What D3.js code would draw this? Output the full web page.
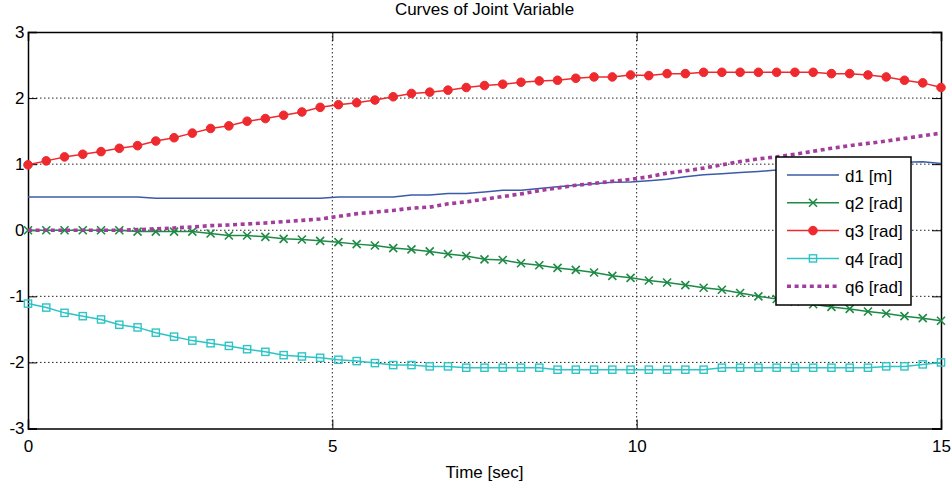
<!DOCTYPE html>
<html>
<head>
<meta charset="utf-8">
<script src="https://cdn.jsdelivr.net/npm/d3@7"></script>
<style>
  body { margin: 0; background: #fff; }
  svg { display: block; font-family: "Liberation Sans", Arial, sans-serif; }
</style>
</head>
<body>
<svg id="chart" width="952" height="489"></svg>
<script>
// time samples: 0 to 15 s, every 0.3 s (51 samples)
const time = d3.range(51).map(i => +(i * 0.3).toFixed(1));

const d1 = [0.505, 0.505, 0.505, 0.505, 0.505, 0.505, 0.505, 0.485, 0.485, 0.485,
            0.485, 0.485, 0.485, 0.485, 0.485, 0.485, 0.485, 0.505, 0.505, 0.505,
            0.505, 0.535, 0.535, 0.555, 0.555, 0.58, 0.605, 0.605, 0.63, 0.66,
            0.68, 0.705, 0.725, 0.73, 0.75, 0.77, 0.81, 0.84, 0.855, 0.875,
            0.89, 0.91, 0.94, 0.96, 0.98, 1.0, 1.01, 1.02, 1.03, 1.035, 1.01];

const q2 = [0, 0, 0, 0, 0, 0, -0.02, -0.02, -0.02, -0.02,
            -0.05, -0.08, -0.08, -0.10, -0.13, -0.14, -0.16, -0.18, -0.21, -0.23,
            -0.27, -0.29, -0.32, -0.36, -0.39, -0.44, -0.45, -0.50, -0.53, -0.57,
            -0.60, -0.64, -0.69, -0.72, -0.76, -0.79, -0.83, -0.87, -0.90, -0.95,
            -1.00, -1.04, -1.08, -1.12, -1.16, -1.19, -1.23, -1.26, -1.30, -1.33, -1.37];

const q3 = [0.99, 1.05, 1.11, 1.15, 1.19, 1.24, 1.28, 1.35, 1.40, 1.47,
            1.54, 1.58, 1.65, 1.69, 1.74, 1.79, 1.86, 1.90, 1.93, 1.97,
            2.02, 2.07, 2.09, 2.12, 2.16, 2.19, 2.21, 2.24, 2.26, 2.27,
            2.30, 2.32, 2.32, 2.35, 2.34, 2.37, 2.37, 2.39, 2.39, 2.39,
            2.39, 2.39, 2.39, 2.39, 2.37, 2.37, 2.35, 2.32, 2.27, 2.23, 2.16];

const q4 = [-1.11, -1.17, -1.25, -1.30, -1.35, -1.43, -1.47, -1.55, -1.61, -1.67,
            -1.71, -1.75, -1.80, -1.84, -1.89, -1.91, -1.93, -1.96, -1.98, -2.01,
            -2.04, -2.04, -2.06, -2.06, -2.08, -2.08, -2.08, -2.08, -2.08, -2.11,
            -2.11, -2.11, -2.11, -2.11, -2.11, -2.11, -2.11, -2.11, -2.08, -2.08,
            -2.08, -2.08, -2.08, -2.08, -2.08, -2.08, -2.08, -2.06, -2.06, -2.03, -2.00];

const q6 = [0, 0, 0, 0, 0, 0, 0.01, 0.02, 0.035, 0.05,
            0.07, 0.08, 0.095, 0.11, 0.13, 0.15, 0.17, 0.21, 0.25, 0.275,
            0.30, 0.335, 0.35, 0.40, 0.43, 0.47, 0.51, 0.55, 0.60, 0.64,
            0.68, 0.71, 0.74, 0.77, 0.81, 0.865, 0.90, 0.94, 0.99, 1.04,
            1.08, 1.11, 1.15, 1.195, 1.24, 1.28, 1.315, 1.35, 1.39, 1.43, 1.47];

const xTicks = [0, 5, 10, 15];
const yTicks = [-3, -2, -1, 0, 1, 2, 3];

const series = [
  { name: "d1 [m]",  values: d1, color: "#3b5ba9", marker: "none" },
  { name: "q2 [rad]", values: q2, color: "#1e8a45", marker: "x" },
  { name: "q3 [rad]", values: q3, color: "#ee2a2e", marker: "dot" },
  { name: "q4 [rad]", values: q4, color: "#2ec4c6", marker: "square" },
  { name: "q6 [rad]", values: q6, color: "#a23d9c", marker: "none", dotted: true }
];

const width = 952, height = 489;
const margin = { top: 32, right: 11, bottom: 60.5, left: 28 };

const svg = d3.select("#chart");

const x = d3.scaleLinear().domain([0, 15]).range([margin.left, width - margin.right]);
const y = d3.scaleLinear().domain([-3, 3]).range([height - margin.bottom, margin.top]);

const x0 = x.range()[0], x1 = x.range()[1], yB = y.range()[0], yT = y.range()[1];

// dotted grid
svg.append("g")
  .selectAll("line")
  .data(xTicks.slice(1, -1))
  .enter().append("line")
  .attr("x1", d => x(d)).attr("x2", d => x(d))
  .attr("y1", yT).attr("y2", yB)
  .attr("stroke", "#222").attr("stroke-width", 1).attr("stroke-dasharray", "1.5,2.5");

svg.append("g")
  .selectAll("line")
  .data(yTicks.slice(1, -1))
  .enter().append("line")
  .attr("x1", x0).attr("x2", x1)
  .attr("y1", d => y(d)).attr("y2", d => y(d))
  .attr("stroke", "#222").attr("stroke-width", 1).attr("stroke-dasharray", "1.5,2.5");

// axes with inward ticks, matlab style box. plain hyphen for negatives like matlab
const fmt = d => String(d);
const tickLen = 9;
const axisB = d3.axisBottom(x).tickValues(xTicks).tickSize(-tickLen).tickPadding(11).tickFormat(fmt);
const axisT = d3.axisTop(x).tickValues(xTicks).tickSize(-tickLen).tickFormat("");
const axisL = d3.axisLeft(y).tickValues(yTicks).tickSize(-tickLen).tickPadding(3.5).tickFormat(fmt);
const axisR = d3.axisRight(y).tickValues(yTicks).tickSize(-tickLen).tickFormat("");

const gB = svg.append("g").attr("transform", `translate(0,${yB})`).call(axisB);
const gT = svg.append("g").attr("transform", `translate(0,${yT})`).call(axisT);
const gL = svg.append("g").attr("transform", `translate(${x0},0)`).call(axisL);
const gR = svg.append("g").attr("transform", `translate(${x1},0)`).call(axisR);

[gB, gT, gL, gR].forEach(g => {
  g.select(".domain").attr("stroke", "#000").attr("stroke-width", 1.5);
  g.selectAll(".tick line").attr("stroke", "#000").attr("stroke-width", 1);
  g.selectAll(".tick text").attr("fill", "#000").style("font-size", "17px")
    .style("font-family", "'Liberation Sans', Arial, sans-serif");
});

// the lines
const line = d3.line().x((d, i) => x(time[i])).y(d => y(d));

const marks = svg.append("g");

const drawMarker = (g, kind, color) => {
  if (kind === "dot") {
    g.append("circle").attr("r", 4.3).attr("fill", color).attr("stroke", color);
  } else if (kind === "x") {
    g.append("path").attr("d", "M-4,-4L4,4M-4,4L4,-4")
      .attr("stroke", color).attr("stroke-width", 1.6).attr("fill", "none");
  } else if (kind === "square") {
    g.append("rect").attr("x", -3.6).attr("y", -3.6).attr("width", 7.2).attr("height", 7.2)
      .attr("stroke", color).attr("stroke-width", 1.4).attr("fill", "none");
  }
};

series.forEach(s => {
  marks.append("path")
    .datum(s.values)
    .attr("d", line)
    .attr("fill", "none")
    .attr("stroke", s.color)
    .attr("stroke-width", s.dotted ? 3.6 : 1.5)
    .attr("stroke-dasharray", s.dotted ? "4,3.6" : null);

  if (s.marker !== "none") {
    marks.append("g")
      .selectAll("g")
      .data(s.values)
      .enter().append("g")
      .attr("transform", (d, i) => `translate(${x(time[i])},${y(d)})`)
      .each(function () { drawMarker(d3.select(this), s.marker, s.color); });
  }
});

// title + x label
svg.append("text")
  .attr("x", (x0 + x1) / 2).attr("y", 15)
  .attr("text-anchor", "middle")
  .style("font-size", "17px")
  .text("Curves of Joint Variable");

svg.append("text")
  .attr("x", (x0 + x1) / 2).attr("y", 478)
  .attr("text-anchor", "middle")
  .style("font-size", "17px")
  .text("Time [sec]");

// legend box
const lg = { x: 776, y: 157, w: 135, h: 148, row: 27.8 };
const legend = svg.append("g");
legend.append("rect")
  .attr("x", lg.x).attr("y", lg.y).attr("width", lg.w).attr("height", lg.h)
  .attr("fill", "#fff").attr("stroke", "#000").attr("stroke-width", 1.5);

const item = legend.selectAll("g.item")
  .data(series)
  .enter().append("g")
  .attr("class", "item")
  .attr("transform", (d, i) => `translate(${lg.x},${lg.y + 18 + i * lg.row})`);

item.append("line")
  .attr("x1", 11).attr("x2", 63)
  .attr("stroke", d => d.color)
  .attr("stroke-width", d => d.dotted ? 3.6 : 1.5)
  .attr("stroke-dasharray", d => d.dotted ? "4,3.6" : null);

item.each(function (d) {
  if (d.marker !== "none") {
    const g = d3.select(this).append("g").attr("transform", "translate(37,0)");
    drawMarker(g, d.marker, d.color);
  }
});

item.append("text")
  .attr("x", 69).attr("y", 6.5)
  .style("font-size", "17px")
  .text(d => d.name);
</script>
</body>
</html>
